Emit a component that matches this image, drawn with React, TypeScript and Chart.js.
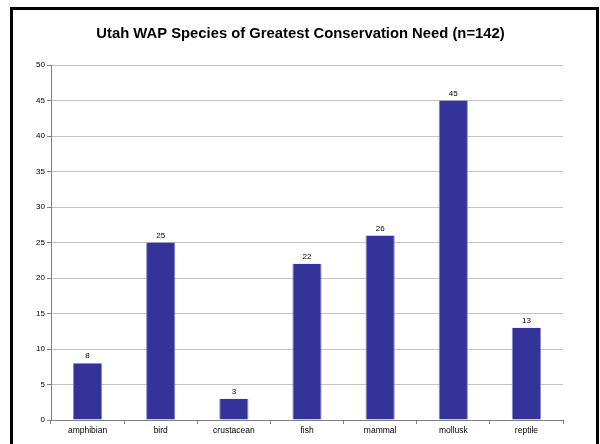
import React, { useEffect, useRef } from "react";
import { Chart, registerables } from "chart.js";

Chart.register(...registerables);

const TITLE = "Utah WAP Species of Greatest Conservation Need (n=142)";
const categories = ["amphibian", "bird", "crustacean", "fish", "mammal", "mollusk", "reptile"];
const counts = [8, 25, 3, 22, 26, 45, 13];
const yTicks = [0, 5, 10, 15, 20, 25, 30, 35, 40, 45, 50];

const FONT = "'Liberation Sans', Arial, sans-serif";

const framePlugin = {
  id: "frame",
  beforeDraw(chart: any) {
    const ctx = chart.ctx;
    ctx.save();
    ctx.fillStyle = "#ffffff";
    ctx.fillRect(0, 0, chart.width, chart.height);
    ctx.strokeStyle = "#000000";
    ctx.lineWidth = 3;
    ctx.strokeRect(11.5, 8.5, 586, 500);
    ctx.fillStyle = "#000000";
    ctx.font = `bold 14.8px ${FONT}`;
    ctx.textAlign = "center";
    ctx.textBaseline = "middle";
    ctx.fillText(TITLE, 300.5, 34);
    ctx.restore();
  },
  afterDatasetsDraw(chart: any) {
    const ctx = chart.ctx;
    const meta = chart.getDatasetMeta(0);
    ctx.save();
    ctx.fillStyle = "#000000";
    ctx.font = `8px ${FONT}`;
    ctx.textAlign = "center";
    ctx.textBaseline = "bottom";
    meta.data.forEach((bar: any, i: number) => {
      ctx.fillText(String(counts[i]), bar.x, bar.y - 3);
    });
    ctx.restore();
  },
};

export default function App() {
  const ref = useRef<HTMLCanvasElement>(null);
  useEffect(() => {
    if (!ref.current) return;
    const chart = new Chart(ref.current, {
      type: "bar",
      data: {
        labels: categories,
        datasets: [
          {
            data: counts,
            backgroundColor: "#333399",
            borderColor: "#8a8ac8",
            borderWidth: { left: 1, right: 1, top: 0, bottom: 0 } as any,
            borderSkipped: false,
            categoryPercentage: 1,
            barPercentage: 0.4,
          },
        ],
      },
      options: {
        animation: false,
        responsive: false,
        maintainAspectRatio: false,
        layout: { padding: { top: 65, right: 37, left: 0, bottom: 0 } },
        plugins: {
          legend: { display: false },
          title: { display: false },
          tooltip: { enabled: false },
        },
        scales: {
          x: {
            afterFit(scale: any) {
              scale.height = 24;
            },
            grid: {
              display: true,
              drawOnChartArea: false,
              drawTicks: true,
              tickLength: 4,
              color: "#808080",
              offset: true,
            },
            border: { display: true, color: "#808080", width: 1 },
            ticks: {
              color: "#000000",
              font: { family: FONT, size: 8.5 },
              padding: 2,
              maxRotation: 0,
              autoSkip: false,
            },
          },
          y: {
            min: 0,
            max: 50,
            afterFit(scale: any) {
              scale.width = 51;
            },
            afterBuildTicks(scale: any) {
              scale.ticks = yTicks.map((v) => ({ value: v }));
            },
            grid: {
              color: "#c4c4c4",
              tickLength: 4,
              tickColor: "#808080",
            },
            border: { display: true, color: "#808080", width: 1 },
            ticks: {
              color: "#000000",
              font: { family: FONT, size: 8 },
              padding: 2,
            },
          },
        },
      },
      plugins: [framePlugin],
    });
    return () => chart.destroy();
  }, []);
  return (
    <div style={{ position: "absolute", left: 0, top: 0, width: 600, height: 444 }}>
      <canvas ref={ref} width={600} height={444} style={{ width: 600, height: 444 }} />
    </div>
  );
}
